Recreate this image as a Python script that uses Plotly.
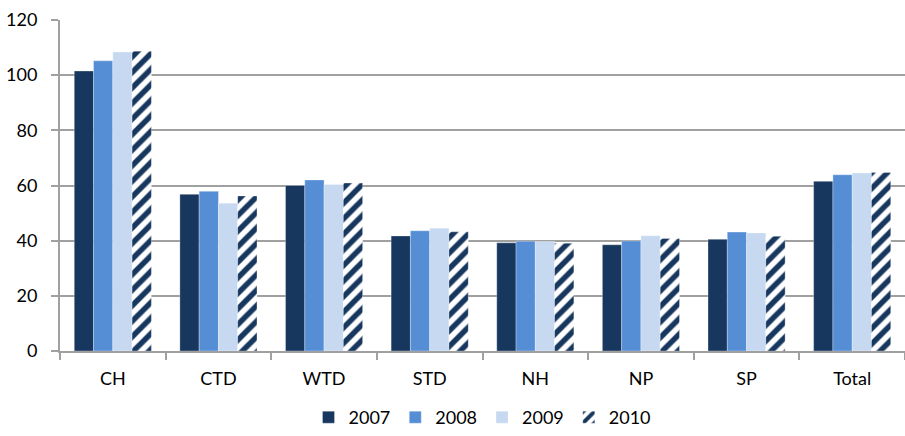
import plotly.graph_objects as go

categories = ["CH", "CTD", "WTD", "STD", "NH", "NP", "SP", "Total"]
years = ["2007", "2008", "2009", "2010"]
v2007 = [101.5, 56.8, 60.0, 41.7, 39.2, 38.5, 40.5, 61.5]
v2008 = [105.2, 57.9, 62.0, 43.6, 39.8, 39.9, 43.1, 63.9]
v2009 = [108.4, 53.6, 60.4, 44.5, 39.7, 41.8, 42.8, 64.5]
v2010 = [108.7, 56.2, 60.9, 43.2, 39.1, 40.8, 41.6, 64.7]
series = [v2007, v2008, v2009, v2010]

navy = "#17375E"
fills = [navy, "#558ED5", "#C6D9F1", "white"]

fig = go.Figure()
for name, vals, col in zip(years, series, fills):
    marker = dict(color=col, line=dict(width=0.5, color="rgba(255,255,255,0.6)"))
    if name == "2010":
        marker["pattern"] = dict(shape="/", fgcolor=navy, bgcolor="white",
                                 fgopacity=1, size=11, solidity=0.5,
                                 fillmode="replace")
    fig.add_trace(go.Bar(name=name, x=categories, y=vals, marker=marker))

axis_col = "#A0A0A0"
fig.update_layout(
    width=905, height=436,
    margin=dict(l=60, r=0, t=20, b=85, autoexpand=False),
    barmode="group", bargap=0.27, bargroupgap=0,
    plot_bgcolor="white", paper_bgcolor="white",
    font=dict(family="Lato, 'Open Sans', sans-serif", size=18, color="#000000"),
    legend=dict(orientation="h", x=0.5, xanchor="center",
                yref="container", y=0.0, yanchor="bottom",
                font=dict(size=18), itemwidth=30, traceorder="normal"),
    xaxis=dict(showline=True, linecolor=axis_col, linewidth=2,
               ticks="outside", tickson="boundaries", ticklen=7,
               tickcolor=axis_col, tickwidth=2, showgrid=False,
               ticklabelstandoff=10),
    yaxis=dict(range=[0, 120], dtick=20, showline=True, linecolor=axis_col,
               linewidth=2, ticks="outside", ticklen=7, tickcolor=axis_col,
               tickwidth=2, showgrid=True, gridcolor=axis_col, gridwidth=2,
               zeroline=False, ticklabelstandoff=10),
)

fig.write_html("out.html")
